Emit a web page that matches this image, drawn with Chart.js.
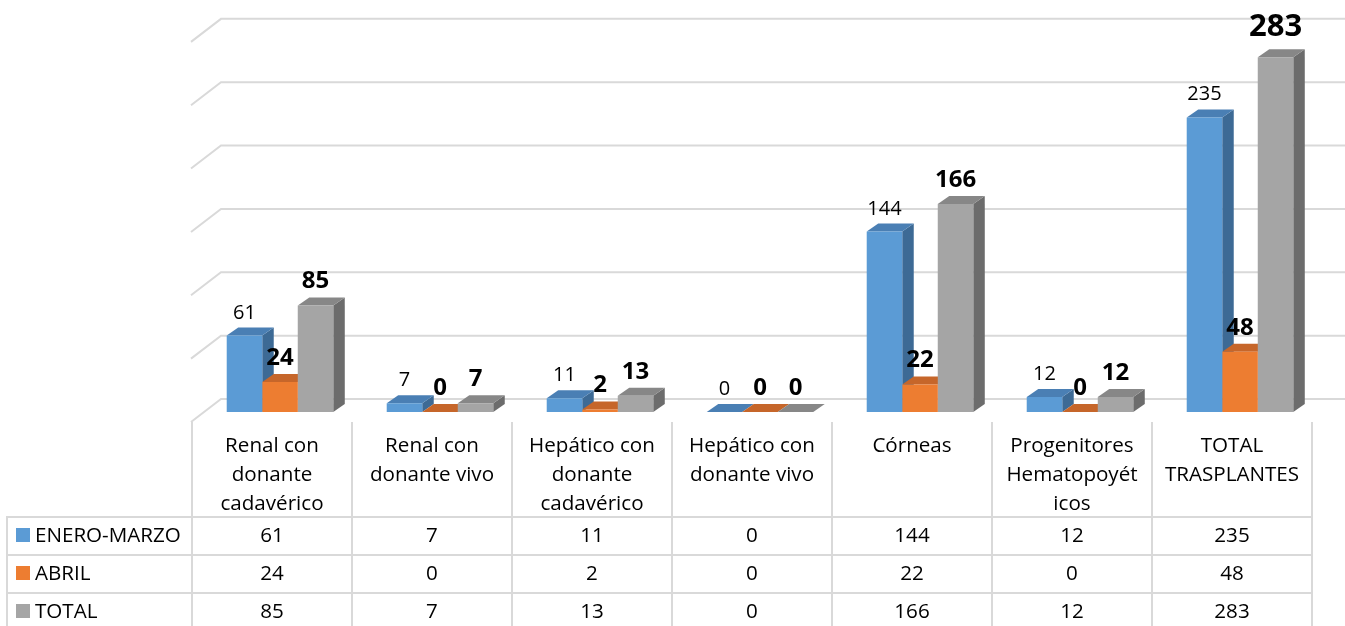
<!DOCTYPE html>
<html lang="es">
<head>
<meta charset="utf-8">
<title>Trasplantes</title>
<script src="https://cdn.jsdelivr.net/npm/chart.js@4.4.0/dist/chart.umd.min.js"></script>
<style>
    html, body { margin: 0; padding: 0; background: #fff; }
    #wrap { position: relative; width: 1345px; height: 626px; overflow: hidden;
            font-family: 'Open Sans', sans-serif; font-size: 20.6px; color: #000; }
    #chart { position: absolute; left: 0; top: 0; }
    .line { position: absolute; background: #d9d9d9; }
    .cell { position: absolute; white-space: nowrap; }
    .head { text-align: center; line-height: 29px; }
    .val { text-align: center; line-height: 35px; }
    .name { line-height: 35px; }
    .key { position: absolute; width: 14px; height: 14px; }
</style>
</head>
<body>
<div id="wrap">
    <canvas id="chart" width="1345" height="626"></canvas>
    <div id="tabla"></div>
</div>
<script>
'use strict';

var CATEGORIES = [
    ['Renal con', 'donante', 'cadavérico'],
    ['Renal con', 'donante vivo'],
    ['Hepático con', 'donante', 'cadavérico'],
    ['Hepático con', 'donante vivo'],
    ['Córneas'],
    ['Progenitores', 'Hematopoyét', 'icos'],
    ['TOTAL', 'TRASPLANTES']
];
var SERIES_NAMES = ['ENERO-MARZO', 'ABRIL', 'TOTAL'];
var ENERO_MARZO = [61, 7, 11, 0, 144, 12, 235];
var ABRIL = [24, 0, 2, 0, 22, 0, 48];
var TOTAL = [85, 7, 13, 0, 166, 12, 283];
var Y_TICKS = [0, 50, 100, 150, 200, 250, 300];

// front / top / side colours of each series
var FACES = [
    {front: '#5b9bd5', top: '#4a7fb4', side: '#3d6a95'},
    {front: '#ed7d31', top: '#c6662a', side: '#b05a22'},
    {front: '#a5a5a5', top: '#878787', side: '#6c6c6c'}
];

var DEPTH_X = 11.5,
    DEPTH_Y = 8,
    SHIFT = 8,          // bars sit 8px right of their table column
    HEAD_TOP = 422,
    ROW_TOP = 517,
    ROW_H = 38,
    TABLE_LEFT = 7;

function poly(ctx, pts, color) {
    ctx.fillStyle = color;
    ctx.beginPath();
    ctx.moveTo(pts[0][0], pts[0][1]);
    for (var k = 1; k < pts.length; k++) {
        ctx.lineTo(pts[k][0], pts[k][1]);
    }
    ctx.closePath();
    ctx.fill();
}

var bars3d = {
    id: 'bars3d',
    beforeDatasetsDraw: function (chart) {
        var ctx = chart.ctx,
            area = chart.chartArea,
            yAxis = chart.scales.y;

        ctx.save();
        // back wall grid lines with the little floor diagonal on the left
        ctx.strokeStyle = '#d9d9d9';
        ctx.lineWidth = 2;
        Y_TICKS.forEach(function (v) {
            var py = yAxis.getPixelForValue(v),
                back = py - 13 - (area.bottom - py) * 0.011;
            ctx.beginPath();
            ctx.moveTo(area.left - 9, back + 23);
            ctx.lineTo(area.left + 21, back);
            ctx.lineTo(chart.width, back);
            ctx.stroke();
        });

        // top and side faces, left to right so neighbours overlap correctly
        for (var i = 0; i < CATEGORIES.length; i++) {
            for (var d = 0; d < chart.data.datasets.length; d++) {
                var bar = chart.getDatasetMeta(d).data[i],
                    l = bar.x - bar.width / 2,
                    r = bar.x + bar.width / 2,
                    t = bar.y,
                    b = bar.base;
                poly(ctx, [[r, t], [r + DEPTH_X, t - DEPTH_Y], [r + DEPTH_X, b - DEPTH_Y], [r, b]], FACES[d].side);
                poly(ctx, [[l, t], [r, t], [r + DEPTH_X, t - DEPTH_Y], [l + DEPTH_X, t - DEPTH_Y]], FACES[d].top);
            }
        }
        ctx.restore();
    },
    afterDatasetsDraw: function (chart) {
        var ctx = chart.ctx,
            last = CATEGORIES.length - 1;

        ctx.save();
        ctx.textAlign = 'center';
        ctx.textBaseline = 'alphabetic';
        ctx.fillStyle = '#000';
        chart.data.datasets.forEach(function (ds, d) {
            chart.getDatasetMeta(d).data.forEach(function (bar, i) {
                var big = d === 2 && i === last;
                if (d === 0) {
                    ctx.font = '20px "Open Sans"';
                } else {
                    ctx.font = 'bold ' + (big ? 31 : 24) + 'px "Open Sans"';
                }
                ctx.fillText(String(ds.data[i]), bar.x, bar.y - (big ? 21 : 17));
            });
        });
        ctx.restore();
    }
};

var chart = new Chart(document.getElementById('chart'), {
    type: 'bar',
    data: {
        labels: CATEGORIES,
        datasets: [
            {label: SERIES_NAMES[0], data: ENERO_MARZO, backgroundColor: FACES[0].front},
            {label: SERIES_NAMES[1], data: ABRIL, backgroundColor: FACES[1].front},
            {label: SERIES_NAMES[2], data: TOTAL, backgroundColor: FACES[2].front}
        ]
    },
    options: {
        responsive: false,
        animation: false,
        events: [],
        layout: {padding: {left: 200, right: 25, top: 36, bottom: 214}},
        datasets: {
            bar: {categoryPercentage: 0.666, barPercentage: 1, borderWidth: 0}
        },
        plugins: {
            legend: {display: false},
            tooltip: {enabled: false}
        },
        scales: {
            x: {display: false},
            y: {display: false, min: 0, max: 300, ticks: {stepSize: 50}}
        }
    },
    plugins: [bars3d]
});

// data table under the chart, columns taken from the category scale
(function buildTable() {
    var box = document.getElementById('tabla'),
        area = chart.chartArea,
        catW = (area.right - area.left) / CATEGORIES.length,
        edges = [],
        series = [ENERO_MARZO, ABRIL, TOTAL],
        bottom = ROW_TOP + ROW_H * series.length;

    CATEGORIES.forEach(function (c, i) {
        edges.push(Math.round(chart.scales.x.getPixelForValue(i) - catW / 2 - SHIFT));
    });
    edges.push(edges[edges.length - 1] + catW);

    function add(cls, css, text) {
        var el = document.createElement('div');
        el.className = cls;
        Object.keys(css).forEach(function (k) {
            el.style[k] = typeof css[k] === 'number' ? css[k] + 'px' : css[k];
        });
        if (text !== undefined) {
            el.innerHTML = text;
        }
        box.appendChild(el);
        return el;
    }

    edges.forEach(function (x) {
        add('line', {left: x - 1, top: HEAD_TOP, width: 2, height: bottom - HEAD_TOP + 2});
    });
    add('line', {left: TABLE_LEFT - 1, top: ROW_TOP - 1, width: 2, height: bottom - ROW_TOP + 2});
    for (var r = 0; r <= series.length; r++) {
        add('line', {left: TABLE_LEFT - 1, top: ROW_TOP + r * ROW_H - 1, width: edges[edges.length - 1] - TABLE_LEFT + 2, height: 2});
    }

    CATEGORIES.forEach(function (lines, i) {
        add('cell head', {left: edges[i], top: HEAD_TOP + 8, width: catW},
            lines.map(function (s) { return s.replace(/&/g, '&amp;'); }).join('<br>'));
    });

    series.forEach(function (vals, s) {
        var top = ROW_TOP + s * ROW_H;
        add('key', {left: 16, top: top + 11, background: FACES[s].front});
        add('cell name', {left: 35, top: top, height: ROW_H}, SERIES_NAMES[s]);
        vals.forEach(function (v, i) {
            add('cell val', {left: edges[i], top: top, width: catW, height: ROW_H}, String(v));
        });
    });
})();
</script>
</body>
</html>
